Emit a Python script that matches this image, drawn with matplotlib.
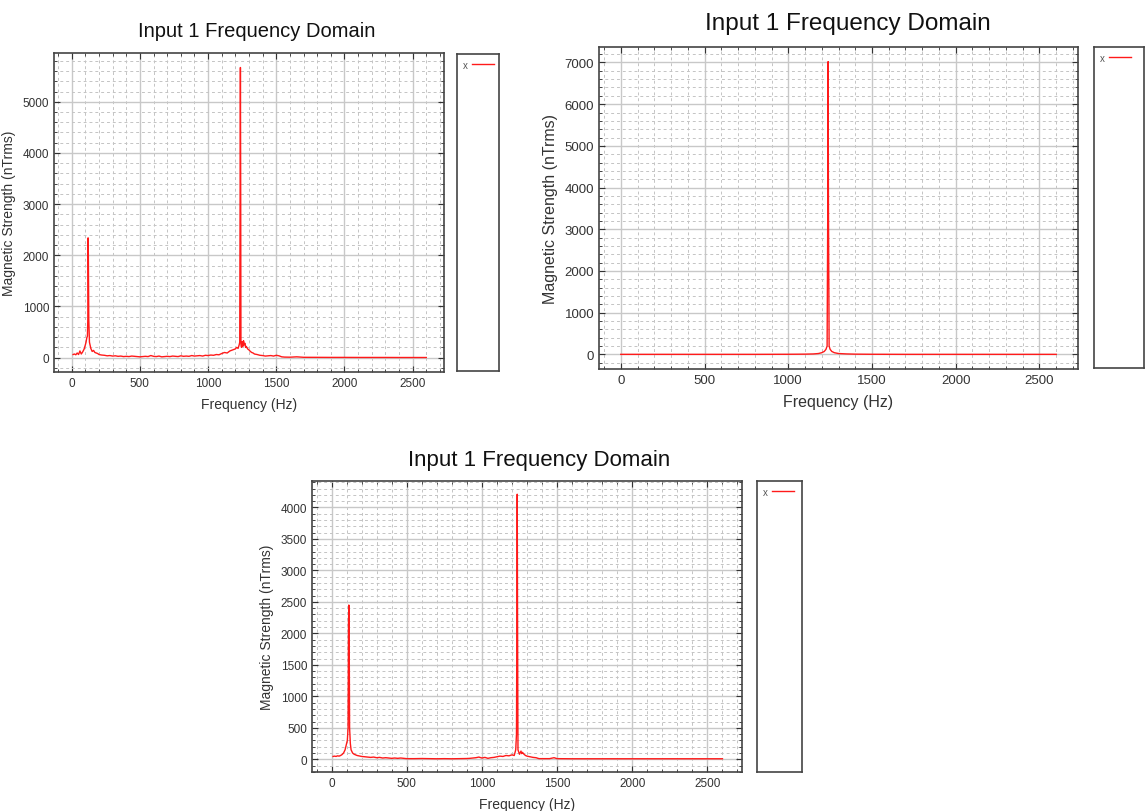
import matplotlib
matplotlib.use("Agg")
import matplotlib.pyplot as plt
from matplotlib.ticker import MultipleLocator, AutoMinorLocator

plt.rcParams['font.family'] = ['Liberation Sans', 'DejaVu Sans']

title = "Input 1 Frequency Domain"
x_label = "Frequency (Hz)"
y_label = "Magnetic Strength (nTrms)"
legend_label = "x"

# panel 1 (top left): two spikes, noisy floor
freq1 = [10, 20, 30, 40, 50, 60, 70, 80, 90, 100, 105, 110, 115, 118, 120, 122, 125, 130,
         140, 150, 160, 170, 180, 190, 200, 220, 240, 260, 280, 300, 320, 340, 360, 380,
         400, 420, 440, 460, 480, 500, 520, 540, 560, 580, 600, 620, 640, 660, 680, 700,
         720, 740, 760, 780, 800, 820, 840, 860, 880, 900, 920, 940, 960, 980, 1000, 1020,
         1040, 1060, 1080, 1100, 1120, 1140, 1160, 1180, 1200, 1210, 1220, 1228, 1232, 1235,
         1237, 1239, 1241, 1245, 1250, 1255, 1260, 1265, 1270, 1275, 1280, 1290, 1300, 1310,
         1320, 1330, 1340, 1360, 1380, 1400, 1420, 1440, 1460, 1480, 1500, 1520, 1540, 1560,
         1600, 1650, 1700, 1800, 1900, 2000, 2100, 2200, 2300, 2400, 2500, 2600]
mag1 = [60, 70, 55, 90, 60, 130, 70, 110, 160, 250, 300, 380, 420, 750, 2340, 2000, 750, 300,
        180, 120, 140, 100, 90, 80, 60, 50, 45, 35, 40, 30, 35, 25, 30, 20,
        25, 20, 30, 25, 20, 15, 20, 25, 20, 40, 25, 20, 30, 15, 20, 25,
        20, 30, 25, 20, 35, 25, 30, 25, 40, 30, 35, 40, 30, 45, 40, 50,
        45, 60, 55, 80, 100, 90, 130, 150, 170, 200, 180, 250, 300, 3400,
        5670, 3400, 250, 200, 310, 220, 330, 250, 280, 200, 220, 170, 150, 120,
        100, 90, 70, 60, 45, 40, 30, 35, 40, 30, 45, 35, 15, 10,
        8, 15, 6, 5, 4, 4, 3, 3, 3, 2, 2, 2]

# panel 2 (top right): single spike
freq2 = [0, 200, 400, 600, 800, 1000, 1100, 1150, 1180, 1200, 1215, 1225, 1232, 1236, 1238,
         1240, 1244, 1250, 1260, 1275, 1300, 1350, 1400, 1500, 1700, 2000, 2300, 2600]
mag2 = [0, 0, 0, 0, 0, 2, 5, 10, 20, 40, 70, 120, 200, 3600, 7020,
        3600, 200, 120, 70, 40, 20, 10, 5, 2, 0, 0, 0, 0]

# panel 3 (bottom): two spikes
freq3 = [10, 20, 30, 40, 50, 60, 70, 80, 90, 100, 105, 110, 113, 115, 117, 120, 125, 130,
         140, 150, 160, 170, 180, 190, 200, 220, 240, 260, 280, 300, 320, 340, 360, 380,
         400, 420, 440, 460, 480, 500, 550, 600, 650, 700, 750, 800, 850, 900, 920, 940,
         960, 980, 1000, 1020, 1040, 1060, 1080, 1100, 1120, 1140, 1160, 1180, 1200, 1215,
         1225, 1230, 1233, 1235, 1237, 1240, 1250, 1260, 1265, 1270, 1280, 1290, 1300, 1320,
         1340, 1360, 1380, 1400, 1450, 1480, 1500, 1600, 1800, 2000, 2200, 2400, 2600]
mag3 = [45, 50, 45, 55, 50, 60, 75, 100, 150, 250, 300, 500, 2180, 2450, 2180, 500, 250, 150,
        100, 80, 70, 60, 55, 50, 45, 40, 35, 30, 35, 25, 30, 20, 25, 20,
        15, 20, 15, 20, 15, 10, 10, 12, 10, 8, 10, 8, 10, 12, 15, 20,
        25, 35, 20, 30, 15, 25, 30, 40, 50, 45, 60, 55, 70, 60,
        150, 400, 2350, 4210, 2350, 150, 80, 130, 90, 110, 80, 60, 50, 40,
        30, 25, 10, 10, 10, 25, 10, 8, 8, 8, 8, 8, 8]

W, H = 1145, 812
fig = plt.figure(figsize=(W / 100, H / 100), dpi=100)


def px(left, top, right, bottom):
    return [left / W, 1 - bottom / H, (right - left) / W, (bottom - top) / H]


panels = [
    # data, axes box, legend box, y step, font sizes (title, label, tick), title x, title pad
    (freq1, mag1, px(54, 54, 444, 373), px(457, 55, 499, 372), 1000, (14.5, 10, 8.5), 0.52, 12),
    (freq2, mag2, px(599, 48, 1078, 370), px(1094, 48, 1144, 369), 1000, (17.5, 11.5, 9.5), 0.52, 13),
    (freq3, mag3, px(312, 482, 742, 773), px(757, 482, 802, 773), 500, (16, 10, 8.5), 0.528, 11.5),
]

for fx, fy, box, lbox, ystep, (fs_t, fs_l, fs_k), tx, tpad in panels:
    ax = fig.add_axes(box)
    line, = ax.plot(fx, fy, color="#ff1a1a", lw=1.0)
    ax.set_xlim(-130, 2730)
    ax.xaxis.set_major_locator(MultipleLocator(500))
    ax.yaxis.set_major_locator(MultipleLocator(ystep))
    ax.xaxis.set_minor_locator(AutoMinorLocator(5))
    ax.yaxis.set_minor_locator(AutoMinorLocator(5))
    ax.grid(which="major", color="#c8c8c8", lw=1.0)
    ax.grid(which="minor", color="#c4c4c4", lw=0.7, ls=(0, (3, 3)))
    ax.set_axisbelow(True)
    ax.tick_params(which="both", direction="in", top=True, right=True,
                   colors="#333333", labelsize=fs_k)
    ax.tick_params(which="major", length=4)
    ax.tick_params(which="minor", length=2.5)
    for s in ax.spines.values():
        s.set_color("#444444")
        s.set_linewidth(1.2)
    ax.set_title(title, fontsize=fs_t, x=tx, pad=tpad, color="#111111")
    ax.set_xlabel(x_label, fontsize=fs_l, color="#333333", labelpad=6)
    ax.set_ylabel(y_label, fontsize=fs_l, color="#333333", labelpad=5)

    # legend sits in its own framed box to the right
    lax = fig.add_axes(lbox)
    lax.set_xticks([])
    lax.set_yticks([])
    for s in lax.spines.values():
        s.set_color("#444444")
        s.set_linewidth(1.2)
    lax.legend([line], [legend_label], loc="upper left", frameon=False, markerfirst=False,
               fontsize=7, handlelength=2.3, borderaxespad=0.2, handletextpad=0.4,
               labelcolor="#555555")

fig.savefig("out.png", dpi=100)
